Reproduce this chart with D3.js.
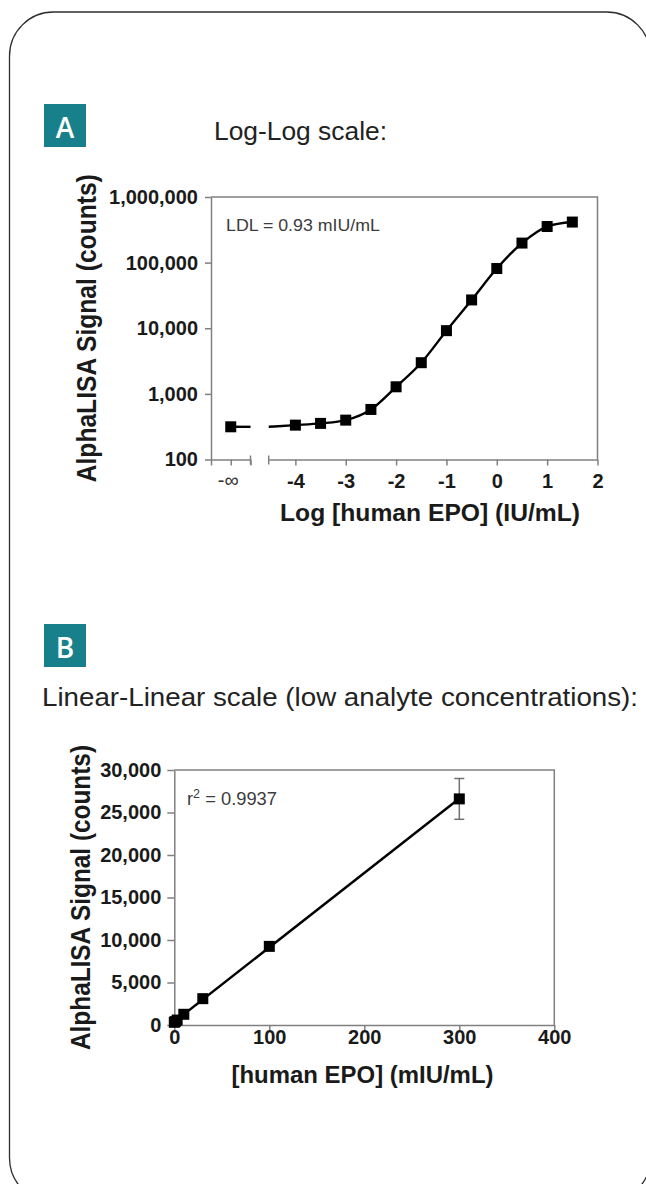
<!DOCTYPE html>
<html><head><meta charset="utf-8">
<script src="https://cdn.jsdelivr.net/npm/d3@7"></script>
<style>
body{margin:0;background:#fff}
svg{display:block}
text{font-family:"Liberation Sans",Arial,Helvetica,sans-serif}
</style>
</head><body>
<svg id="c" width="646" height="1184"></svg>
<script>
// ---------- DATA ----------
// Panel A: log-log dose response
const logConcA = [-4, -3.5, -3, -2.5, -2, -1.5, -1, -0.5, 0, 0.5, 1, 1.5];
const signalA  = [334, 355, 398, 579, 1282, 2985, 9190, 27000, 81300, 198600, 355000, 415000];
const blankSignalA = 315;          // plotted at -infinity
const yTicksA = [100, 1000, 10000, 100000, 1000000];
const xTicksA = [-4, -3, -2, -1, 0, 1, 2];
const breakLabelA = "-\u221E";
const ldlText = "LDL = 0.93 mIU/mL";

// Panel B: linear-linear low concentrations
const concB   = [0, 1, 3, 10, 30, 100, 300];
const signalB = [320, 400, 580, 1260, 3100, 9250, 26600];
const errorB  = [0, 0, 0, 0, 0, 0, 2400];
const yTicksB = [0, 5000, 10000, 15000, 20000, 25000, 30000];
const xTicksB = [0, 100, 200, 300, 400];
const r2Value = "0.9937";

// ---------- HELPERS ----------
const svg = d3.select("#c");
const TEAL = "#17808a", AXIS = "#808080", INK = "#1a1a1a", NOTE = "#3c3c3c";

function width(sel, w) { sel.attr("textLength", w).attr("lengthAdjust", "spacingAndGlyphs"); }

function styleAxis(g, fs) {
  g.attr("font-family", null).attr("font-size", null);
  g.select(".domain").attr("stroke", AXIS).attr("stroke-width", 1.5);
  g.selectAll(".tick line").attr("stroke", AXIS).attr("stroke-width", 1.5);
  g.selectAll(".tick text").attr("fill", INK).attr("font-size", fs).attr("font-weight", "bold");
}

function badge(y, letter) {
  svg.append("rect").attr("x", 44).attr("y", y).attr("width", 42).attr("height", 43).attr("fill", TEAL);
  svg.append("text").attr("x", 65).attr("y", y + 34).attr("text-anchor", "middle")
    .attr("fill", "#fff").attr("font-size", 28).attr("font-weight", 600)
    .style("font-family", "'Open Sans',sans-serif").text(letter);
}

// ---------- BACKGROUND / CARD ----------
svg.append("rect").attr("width", 646).attr("height", 1184).attr("fill", "#fff");
svg.append("rect").attr("x", 9.5).attr("y", 12).attr("width", 641).attr("height", 1190)
  .attr("rx", 44).attr("fill", "none").attr("stroke", "#2e2e2e").attr("stroke-width", 1.3);

// ---------- PANEL A ----------
badge(104, "A");
svg.append("text").attr("x", 214).attr("y", 140).attr("font-size", 25).attr("fill", "#222")
  .text("Log-Log scale:").call(width, 173);

const A = { left: 211, right: 597.5, top: 197, bottom: 459.5, brk: 250.5, seg: 268.7 };
const yA = d3.scaleLog().domain([100, 1e6]).range([A.bottom, A.top]);
const xA0 = d3.scaleLinear().domain([-1, 1]).range([A.left, A.brk]);       // -inf segment
const xA = d3.scaleLinear().domain([-4.53, 2]).range([A.seg, A.right]);     // log segment

// frame top + right
svg.append("path")
  .attr("d", `M${xA0.range()[0]},${yA.range()[1]}H${xA.range()[1]}V${yA.range()[0]}`)
  .attr("fill", "none").attr("stroke", AXIS).attr("stroke-width", 1.5);

const gAy = svg.append("g").attr("transform", `translate(${A.left},0)`)
  .call(d3.axisLeft(yA).tickValues(yTicksA).tickFormat(d3.format(",")).tickSize(6).tickPadding(7).tickSizeOuter(0));
styleAxis(gAy, 20);

const gAx0 = svg.append("g").attr("transform", `translate(0,${A.bottom})`)
  .call(d3.axisBottom(xA0).tickValues([-1, 0, 1]).tickFormat(d => d === 0 ? breakLabelA : "")
    .tickSize(6).tickPadding(7).tickSizeOuter(0));
styleAxis(gAx0, 20);
gAx0.selectAll(".tick text").attr("font-weight", "normal").attr("fill", "#333").attr("dx", -3);

const gAx = svg.append("g").attr("transform", `translate(0,${A.bottom})`)
  .call(d3.axisBottom(xA).tickValues(xTicksA).tickFormat(d => String(d)).tickSize(6).tickPadding(8.3).tickSizeOuter(0));
styleAxis(gAx, 20);

// break caps
[xA0.range()[1], xA.range()[0]].forEach(x => {
  svg.append("line").attr("x1", x).attr("x2", x).attr("y1", A.bottom - 4).attr("y2", A.bottom + 5)
    .attr("stroke", AXIS).attr("stroke-width", 1.5);
});

// fit curve (through data, flat to the segment start at blank level)
const curvePts = [[xA.domain()[0], blankSignalA]].concat(logConcA.map((c, i) => [c, signalA[i]]));
svg.append("path").datum(curvePts)
  .attr("d", d3.line().x(d => xA(d[0])).y(d => yA(d[1])).curve(d3.curveMonotoneX))
  .attr("fill", "none").attr("stroke", "#000").attr("stroke-width", 2.4);
svg.append("line").attr("x1", xA0(0)).attr("x2", xA0(1)).attr("y1", yA(blankSignalA)).attr("y2", yA(blankSignalA))
  .attr("stroke", "#000").attr("stroke-width", 2.4);

const sqA = 11;
svg.append("g").selectAll("rect").data(logConcA).join("rect")
  .attr("x", (d) => xA(d) - sqA / 2).attr("y", (d, i) => yA(signalA[i]) - sqA / 2)
  .attr("width", sqA).attr("height", sqA).attr("fill", "#000");
svg.append("rect").attr("x", xA0(0) - sqA / 2).attr("y", yA(blankSignalA) - sqA / 2)
  .attr("width", sqA).attr("height", sqA).attr("fill", "#000");

svg.append("text").attr("x", 226).attr("y", 231).attr("font-size", 17).attr("fill", NOTE)
  .text(ldlText).call(width, 154);

svg.append("text").attr("x", 430).attr("y", 521).attr("text-anchor", "middle")
  .attr("font-size", 24).attr("font-weight", "bold").attr("fill", INK)
  .text("Log [human EPO] (IU/mL)").call(width, 300);

svg.append("text").attr("transform", `translate(96,${(A.top + A.bottom) / 2}) scale(1.15,1) rotate(-90)`)
  .attr("text-anchor", "middle").attr("font-size", 24).attr("font-weight", "bold").attr("fill", INK)
  .text("AlphaLISA Signal (counts)").call(width, 308);

// ---------- PANEL B ----------
badge(624, "B");
svg.append("text").attr("x", 42).attr("y", 706).attr("font-size", 25).attr("fill", "#222")
  .text("Linear-Linear scale (low analyte concentrations):").call(width, 596);

const B = { left: 174.3, right: 554.3, top: 770, bottom: 1025 };
const xB = d3.scaleLinear().domain([0, 400]).range([B.left, B.right]);
const yB = d3.scaleLinear().domain([0, 30000]).range([B.bottom, B.top]);

svg.append("path")
  .attr("d", `M${xB.range()[0]},${yB.range()[1]}H${xB.range()[1]}V${yB.range()[0]}`)
  .attr("fill", "none").attr("stroke", AXIS).attr("stroke-width", 1.5);

const gBy = svg.append("g").attr("transform", `translate(${B.left},0)`)
  .call(d3.axisLeft(yB).tickValues(yTicksB).tickFormat(d3.format(",")).tickSize(7).tickPadding(6).tickSizeOuter(0));
styleAxis(gBy, 20);

const gBx = svg.append("g").attr("transform", `translate(0,${B.bottom})`)
  .call(d3.axisBottom(xB).tickValues(xTicksB).tickFormat(d => String(d)).tickSize(5).tickPadding(-0.5).tickSizeOuter(0));
styleAxis(gBx, 20);

// linear regression of the plotted points
const mx = d3.mean(concB), my = d3.mean(signalB);
const sxy = d3.sum(concB, (x, i) => (x - mx) * (signalB[i] - my));
const sxx = d3.sum(concB, x => (x - mx) ** 2);
const slope = sxy / sxx, icpt = my - slope * mx;
const ext = d3.extent(concB);
svg.append("line").attr("x1", xB(ext[0])).attr("y1", yB(icpt + slope * ext[0]))
  .attr("x2", xB(ext[1])).attr("y2", yB(icpt + slope * ext[1]))
  .attr("stroke", "#000").attr("stroke-width", 2.4);

// error bars
const eb = svg.append("g").attr("stroke", "#707070").attr("stroke-width", 1.5);
concB.forEach((c, i) => {
  if (!errorB[i]) return;
  const x = xB(c), y1 = yB(signalB[i] - errorB[i]), y2 = yB(signalB[i] + errorB[i]);
  eb.append("line").attr("x1", x).attr("x2", x).attr("y1", y1).attr("y2", y2);
  eb.append("line").attr("x1", x - 5).attr("x2", x + 5).attr("y1", y1).attr("y2", y1);
  eb.append("line").attr("x1", x - 5).attr("x2", x + 5).attr("y1", y2).attr("y2", y2);
});

const sqB = 11;
svg.append("g").selectAll("rect").data(concB).join("rect")
  .attr("x", d => xB(d) - sqB / 2).attr("y", (d, i) => yB(signalB[i]) - sqB / 2)
  .attr("width", sqB).attr("height", sqB).attr("fill", "#000");

const r2 = svg.append("text").attr("x", 187).attr("y", 805).attr("font-size", 17.5).attr("fill", NOTE);
r2.append("tspan").text("r");
r2.append("tspan").attr("font-size", 12).attr("dy", -7).text("2");
r2.append("tspan").attr("dy", 7).text(" = " + r2Value);
r2.call(width, 90);

svg.append("text").attr("x", 362.5).attr("y", 1083).attr("text-anchor", "middle")
  .attr("font-size", 24).attr("font-weight", "bold").attr("fill", INK)
  .text("[human EPO] (mIU/mL)").call(width, 262);

svg.append("text").attr("transform", `translate(90,${(B.top + B.bottom) / 2}) scale(1.15,1) rotate(-90)`)
  .attr("text-anchor", "middle").attr("font-size", 24).attr("font-weight", "bold").attr("fill", INK)
  .text("AlphaLISA Signal (counts)").call(width, 305);
</script>
</body></html>
